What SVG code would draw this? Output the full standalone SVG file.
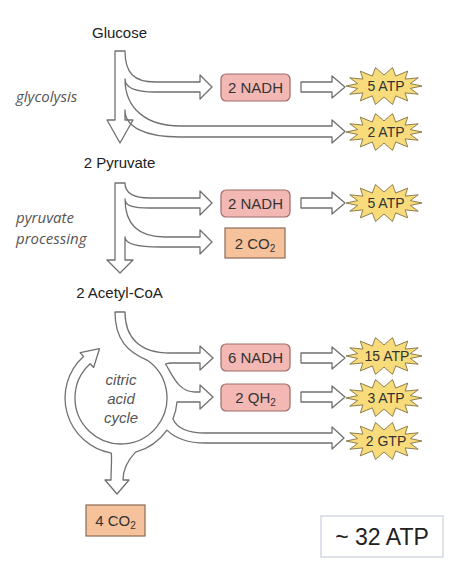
<svg xmlns="http://www.w3.org/2000/svg" xmlns:xlink="http://www.w3.org/1999/xlink" width="456" height="570" viewBox="0 0 456 570">
<style>
.arr{fill:#fff;stroke:#707070;stroke-width:1.3;stroke-linejoin:round}
.lbl{font-family:"Liberation Sans",Arial,sans-serif;font-size:15px;fill:#222;text-anchor:middle}
.it{font-family:"Open Sans",sans-serif;font-style:italic;font-size:15px;fill:#555}
.cit{font-family:"Liberation Sans",Arial,sans-serif;font-style:italic;font-size:15px;fill:#555;text-anchor:middle}
.nadh{fill:#f3b8b3;stroke:#9c6c68;stroke-width:1.2}
.co2{fill:#f5c29c;stroke:#8c6b55;stroke-width:1.2}
.star{fill:#f8dc7c;stroke:#8f7f4d;stroke-width:1}
.bt{font-family:"Liberation Sans",Arial,sans-serif;font-size:15px;fill:#333;text-anchor:middle}
.stt{font-family:"Liberation Sans",Arial,sans-serif;font-size:14px;fill:#333;text-anchor:middle}
.sub{font-size:10px}
</style>
<defs>
<path id="star" d="M38,0 L26.3,2.4 L34.2,8.2 L21.1,6.9 L23.7,14.9 L11.7,9.9 L8.5,18.5 L0,11 L-8.5,18.5 L-11.7,9.9 L-23.7,14.9 L-21.1,6.9 L-34.2,8.2 L-26.3,2.4 L-38,0 L-26.3,-2.4 L-34.2,-8.2 L-21.1,-6.9 L-23.7,-14.9 L-11.7,-9.9 L-8.5,-18.5 L0,-11 L8.5,-18.5 L11.7,-9.9 L23.7,-14.9 L21.1,-6.9 L34.2,-8.2 L26.3,-2.4 Z"/>
<path id="sarr" d="M0,-5 L31,-5 L31,-11 L44,0 L31,11 L31,5 L0,5 Z"/>
</defs>
<rect width="456" height="570" fill="#fff"/>

<g id="connectors">
  <path class="arr" d="M115,51 L125,51 C125,73 134,82 155,82 L200,82 L200,75 L212,87 L200,99 L200,92 L155,92 C137,92 125,88 125,79 C125,110 148,126 180,126 L332,126 L332,120 L345,131.5 L332,143 L332,137 L180,137 C145,137 125,127 125,110 L125,120 L133,120 L120,143 L107,120 L115,120 Z"/>
  <path class="arr" d="M115,183 L125,183 C125,193 133,198 150,198 L200,198 L200,191 L212,203 L200,215 L200,208 L150,208 C133,208 125,206 125,199 C125,226 140,237 165,237 L200,237 L200,230 L212,242 L200,254 L200,247 L160,247 C138,247 125,244 125,237 L125,260 L133,260 L120,273 L107,260 L115,260 Z"/>
  <path class="arr" d="M115,312 L125,312 C125,338 140,353 170,353 L200,353 L200,346 L213,358 L200,370 L200,363 L172,363 Q168,363 165.5,364 C172,374 178,392 195,392 L200,392 L200,385 L213,397 L200,409 L200,402 L177,402 A56,56 0 0 1 172.9,419 C177,428 188,433 205,433 L332,433 L332,427 L344,438 L332,449 L332,443 L205,443 C188,443 175,438 166.9,430.1 A56,56 0 0 1 135.5,452.1 C129,459 123,468 123,480 L129,480 L117,494 L105,480 L111,480 C111,470 112,460 111.3,453.1 A56,56 0 0 1 83.5,356.4 L80.2,352.7 L99.5,348.7 L93.6,367.5 L90.2,363.8 A46,46 0 1 0 147.4,360.3 C128,352 115,340 115,312 Z"/>
  <use xlink:href="#sarr" href="#sarr" class="arr" transform="translate(301,87)"/>
  <use xlink:href="#sarr" href="#sarr" class="arr" transform="translate(301,203)"/>
  <use xlink:href="#sarr" href="#sarr" class="arr" transform="translate(301,358)"/>
  <use xlink:href="#sarr" href="#sarr" class="arr" transform="translate(301,397)"/>
</g>

<g id="glucose"><text class="lbl" x="119.5" y="38">Glucose</text></g>
<g id="pyruvate"><text class="lbl" x="119.5" y="168">2 Pyruvate</text></g>
<g id="acetylcoa"><text class="lbl" x="119.5" y="298">2 Acetyl-CoA</text></g>

<g id="glycolysis-label"><text class="it" x="16" y="102">glycolysis</text></g>
<g id="pyruvate-processing-label"><text class="it" x="16" y="223">pyruvate</text><text class="it" x="16" y="244">processing</text></g>
<g id="cycle-label"><text class="cit" x="121" y="385">citric</text><text class="cit" x="121" y="404">acid</text><text class="cit" x="121" y="423">cycle</text></g>

<g id="nadh1"><rect class="nadh" x="221" y="74" width="69" height="27" rx="5"/><text class="bt" x="255.5" y="93">2 NADH</text></g>
<g id="atp1"><use xlink:href="#star" href="#star" class="star" transform="translate(384,86)"/><text class="stt" x="386" y="91">5 ATP</text></g>
<g id="atp2"><use xlink:href="#star" href="#star" class="star" transform="translate(384,132)"/><text class="stt" x="386" y="137">2 ATP</text></g>

<g id="nadh2"><rect class="nadh" x="221" y="190" width="69" height="27" rx="5"/><text class="bt" x="255.5" y="209">2 NADH</text></g>
<g id="atp3"><use xlink:href="#star" href="#star" class="star" transform="translate(384,203)"/><text class="stt" x="386" y="208">5 ATP</text></g>
<g id="co2a"><rect class="co2" x="225" y="228" width="60" height="30"/><text class="bt" x="255" y="248.5">2 CO<tspan class="sub" dy="3">2</tspan></text></g>

<g id="nadh3"><rect class="nadh" x="221" y="344" width="69" height="27" rx="5"/><text class="bt" x="255.5" y="363">6 NADH</text></g>
<g id="atp4"><use xlink:href="#star" href="#star" class="star" transform="translate(384,356)"/><text class="stt" x="387" y="361">15 ATP</text></g>
<g id="qh2"><rect class="nadh" x="221" y="384" width="69" height="27" rx="5"/><text class="bt" x="255.5" y="403">2 QH<tspan class="sub" dy="3">2</tspan></text></g>
<g id="atp5"><use xlink:href="#star" href="#star" class="star" transform="translate(384,398)"/><text class="stt" x="386" y="403">3 ATP</text></g>
<g id="gtp"><use xlink:href="#star" href="#star" class="star" transform="translate(384,441)"/><text class="stt" x="386" y="446">2 GTP</text></g>

<g id="co2b"><rect class="co2" x="86" y="505" width="59" height="31"/><text class="bt" x="115.5" y="526">4 CO<tspan class="sub" dy="3">2</tspan></text></g>

<g id="total"><rect x="321" y="516" width="122" height="41" fill="#fff" stroke="#d3d8e2" stroke-width="1.5"/><text x="382" y="545" font-family="Liberation Sans, Arial, sans-serif" font-size="23" fill="#222" text-anchor="middle">~ 32 ATP</text></g>
</svg>
